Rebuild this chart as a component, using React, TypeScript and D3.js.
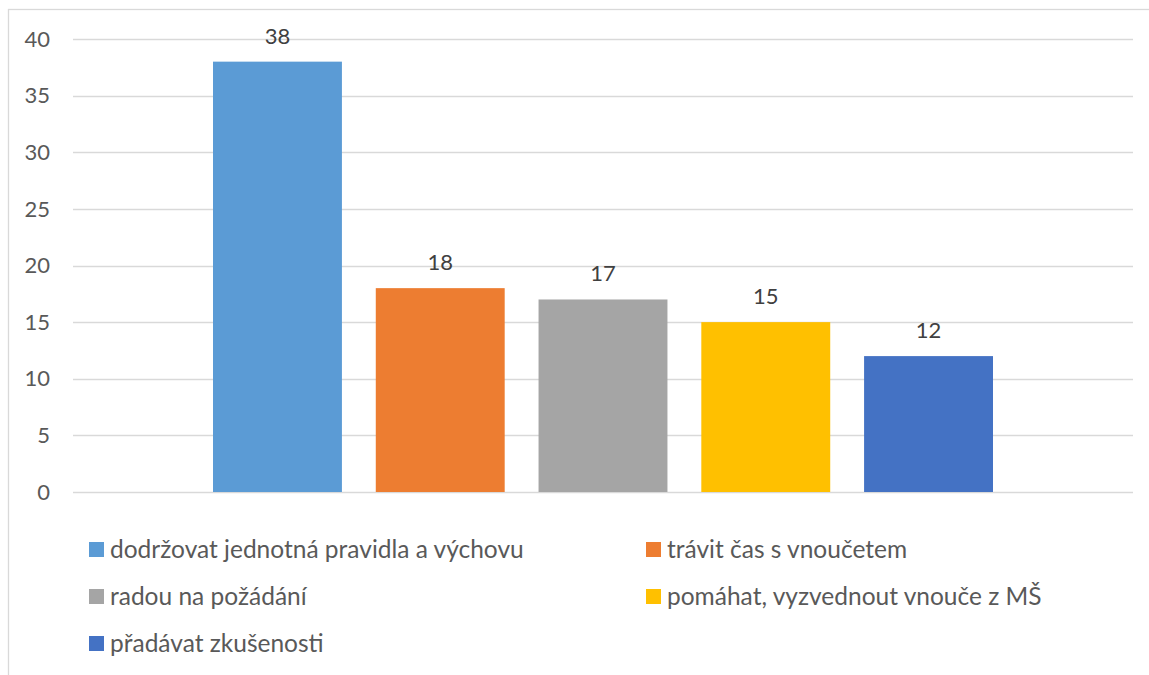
import React, { useEffect, useRef } from 'react';
import * as d3 from 'd3';

// Chart data
const seriesNames = [
    'dodržovat jednotná pravidla a výchovu',
    'trávit čas s vnoučetem',
    'radou na požádání',
    'pomáhat, vyzvednout vnouče z MŠ',
    'přadávat zkušenosti'
];
const seriesValues = [38, 18, 17, 15, 12];
const seriesColors = ['#5B9BD5', '#ED7D31', '#A5A5A5', '#FFC000', '#4472C4'];
const yTicks = [0, 5, 10, 15, 20, 25, 30, 35, 40];

const W = 1149;
const H = 675;

const App: React.FC = () => {
    const svgRef = useRef<SVGSVGElement>(null);

    useEffect(() => {
        if (!svgRef.current) return;
        const svg = d3.select(svgRef.current);
        svg.selectAll('*').remove();

        const font = 'Lato, "Open Sans", sans-serif';
        const textColor = '#595959';
        const plot = { left: 73, right: 1133, top: 39, bottom: 492 };

        // chart border (runs off the right and bottom edges)
        svg.append('rect')
            .attr('x', 8.5)
            .attr('y', 9.5)
            .attr('width', W + 20)
            .attr('height', H + 20)
            .attr('fill', '#fff')
            .attr('stroke', '#D9D9D9')
            .attr('stroke-width', 1.3);

        const y = d3.scaleLinear()
            .domain([0, 40])
            .range([plot.bottom, plot.top]);

        // one category, series grouped inside it
        const xOuter = d3.scaleBand<string>()
            .domain(['all'])
            .range([plot.left, plot.right])
            .paddingInner(0)
            .paddingOuter(0.1795);

        const xInner = d3.scaleBand<string>()
            .domain(seriesNames)
            .range([0, xOuter.bandwidth()])
            .paddingInner(0.208)
            .paddingOuter(0);

        const x0 = xOuter('all') as number;

        // gridlines
        svg.append('g')
            .selectAll('line')
            .data(yTicks)
            .enter()
            .append('line')
            .attr('x1', plot.left)
            .attr('x2', plot.right)
            .attr('y1', d => Math.round(y(d)) + 0.5)
            .attr('y2', d => Math.round(y(d)) + 0.5)
            .attr('stroke', '#D9D9D9')
            .attr('stroke-width', 1.5);

        // y tick labels
        svg.append('g')
            .selectAll('text')
            .data(yTicks)
            .enter()
            .append('text')
            .attr('x', 50)
            .attr('y', d => y(d))
            .attr('dy', '0.35em')
            .attr('text-anchor', 'end')
            .attr('font-family', font)
            .attr('font-size', 22)
            .attr('fill', textColor)
            .text(d => d);

        const data = seriesNames.map((name, i) => ({ name, value: seriesValues[i], color: seriesColors[i] }));

        // bars
        svg.append('g')
            .selectAll('rect')
            .data(data)
            .enter()
            .append('rect')
            .attr('x', d => x0 + (xInner(d.name) as number))
            .attr('y', d => y(d.value))
            .attr('width', xInner.bandwidth())
            .attr('height', d => y(0) - y(d.value))
            .attr('fill', d => d.color);

        // value labels
        svg.append('g')
            .selectAll('text')
            .data(data)
            .enter()
            .append('text')
            .attr('x', d => x0 + (xInner(d.name) as number) + xInner.bandwidth() / 2)
            .attr('y', d => y(d.value) - 18)
            .attr('text-anchor', 'middle')
            .attr('font-family', font)
            .attr('font-size', 22)
            .attr('fill', '#404040')
            .text(d => d.value);

        // legend, two columns
        const legendCols = [89, 646];
        const legendRows = [549, 596, 643];
        const legend = svg.append('g')
            .selectAll('g')
            .data(data)
            .enter()
            .append('g')
            .attr('transform', (d, i) => `translate(${legendCols[i % 2]}, ${legendRows[Math.floor(i / 2)]})`);

        legend.append('rect')
            .attr('x', 0)
            .attr('y', -7)
            .attr('width', 15)
            .attr('height', 15)
            .attr('fill', d => d.color);

        legend.append('text')
            .attr('x', 21)
            .attr('y', 0)
            .attr('dy', '0.35em')
            .attr('font-family', font)
            .attr('font-size', 24.5)
            .attr('fill', textColor)
            .text(d => d.name);
    }, []);

    return (
        <svg
            ref={svgRef}
            width={W}
            height={H}
            style={{ position: 'absolute', left: 0, top: 0, background: '#fff' }}
        ></svg>
    );
};

export default App;
